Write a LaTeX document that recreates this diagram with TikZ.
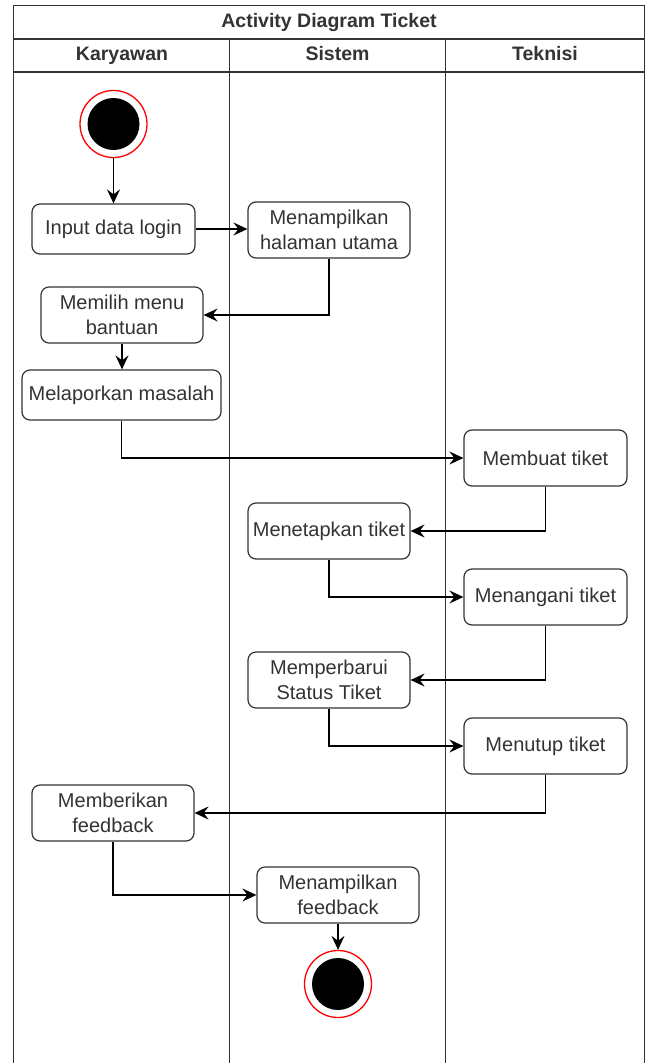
\documentclass[tikz,border=0pt]{standalone}
\usepackage{fontspec}
\setmainfont{Liberation Sans}
\usetikzlibrary{arrows.meta}
\definecolor{ink}{HTML}{333333}
\definecolor{ringred}{HTML}{FF0000}
\tikzset{
  lane/.style={draw=ink, line width=1.4pt},
  act/.style={draw=ink, line width=1.2pt, rounded corners=8pt, fill=white,
    align=center, text=ink, font=\fontsize{20}{25.5}\selectfont,
    minimum height=56pt, inner sep=0pt},
  flow/.style={draw=black, line width=1.6pt,
    -{Stealth[length=14pt,width=13pt,inset=5pt]}},
  ring/.style={circle, draw=ringred, line width=1.3pt, fill=white,
    minimum size=67pt, inner sep=0pt},
  dot/.style={circle, fill=black, minimum size=52pt, inner sep=0pt},
  hdr/.style={font=\bfseries\fontsize{19.5}{23}\selectfont, text=ink,
    text height=14pt, text depth=4pt, inner sep=0pt}
}
\begin{document}
\begin{tikzpicture}[x=1pt, y=-1pt]
\useasboundingbox (0,0) rectangle (646,1063);

% swimlane frame
\draw[lane] (13.7,1063) -- (13.7,5.7) -- (644.5,5.7) -- (644.5,1063);
\draw[lane] (13.7,39) -- (644.5,39);
\draw[lane] (13.7,72) -- (644.5,72);
\draw[lane] (229.7,39) -- (229.7,1063);
\draw[lane] (445.3,39) -- (445.3,1063);

\node[hdr] (title) at (329,22) {Activity Diagram Ticket};
\node[hdr] (hk) at (122,55.5) {Karyawan};
\node[hdr] (hs) at (337.5,55.5) {Sistem};
\node[hdr] (ht) at (545,55.5) {Teknisi};

% start node
\node[ring] (start) at (113.5,124) {};
\node[dot] at (start) {};

% activities
\node[act, minimum width=163pt, minimum height=50pt] (login) at (113.5,229) {Input data login};
\node[act, minimum width=162pt] (home) at (329,230) {Menampilkan\\halaman utama};
\node[act, minimum width=162pt] (menu) at (122,315) {Memilih menu\\bantuan};
\node[act, minimum width=199pt, minimum height=50pt] (lapor) at (121.5,395) {Melaporkan masalah};
\node[act, minimum width=163pt] (buat) at (545.5,458) {Membuat tiket};
\node[act, minimum width=162pt] (tetap) at (329,531) {Menetapkan tiket};
\node[act, minimum width=163pt] (tangani) at (545.5,597) {Menangani tiket};
\node[act, minimum width=162pt] (update) at (329,680) {Memperbarui\\Status Tiket};
\node[act, minimum width=163pt] (tutup) at (545.5,746) {Menutup tiket};
\node[act, minimum width=162pt] (beri) at (113,813) {Memberikan\\feedback};
\node[act, minimum width=162pt] (tampil) at (338,895) {Menampilkan\\feedback};

% end node
\node[ring] (end) at (338,984) {};
\node[dot] at (end) {};

% control flow
\draw[flow] (start.south) -- (login.north);
\draw[flow] (login.east) -- (home.west |- login.east);
\draw[flow] (home.south) |- (menu.east);
\draw[flow] (menu.south) -- (lapor.north -| menu.south);
\draw[flow] (lapor.south) |- (buat.west);
\draw[flow] (buat.south) |- (tetap.east);
\draw[flow] (tetap.south) |- (tangani.west);
\draw[flow] (tangani.south) |- (update.east);
\draw[flow] (update.south) |- (tutup.west);
\draw[flow] (tutup.south) |- (beri.east);
\draw[flow] (beri.south) |- (tampil.west);
\draw[flow] (tampil.south) -- (end.north);
\end{tikzpicture}
\end{document}
